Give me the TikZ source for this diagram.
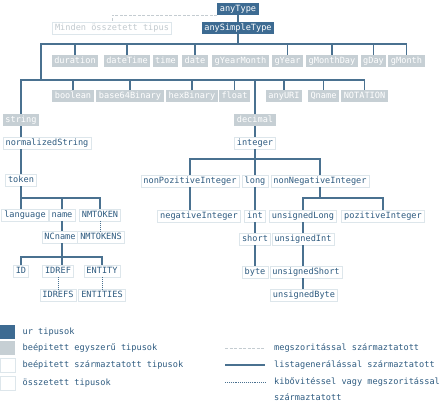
\documentclass[tikz,border=0pt]{standalone}
\usepackage{fontspec}
\setmonofont{DejaVu Sans Mono}
\definecolor{urblue}{HTML}{3D6B92}
\definecolor{boxgray}{HTML}{C6CFD4}
\definecolor{lineblue}{HTML}{4A7190}
\definecolor{textblue}{HTML}{2E5B80}
\definecolor{faint}{HTML}{DDE6EB}
\definecolor{complextext}{HTML}{C2CACF}
\definecolor{restrline}{HTML}{C4CCD1}
\begin{document}
\begin{tikzpicture}[x=1pt,y=-1pt,
  every node/.style={font=\ttfamily\fontsize{8.6}{9}\selectfont, inner xsep=2.5pt, inner ysep=1.8pt,
    text height=6.4pt, text depth=1.8pt},
  urbox/.style={fill=urblue, text=white},
  builtin/.style={fill=boxgray, text=white},
  derived/.style={fill=white, draw=faint, line width=0.6pt, text=textblue},
  complexbox/.style={fill=white, draw=faint, line width=0.8pt, text=complextext},
  edge/.style={draw=lineblue, line width=1.6pt},
  dotline/.style={draw=lineblue, line width=0.9pt, dash pattern=on 0.9pt off 1pt},
  restr/.style={draw=restrline, line width=0.9pt, dash pattern=on 3pt off 1.5pt},
  legsq/.style={minimum width=15pt, minimum height=14pt, inner sep=0pt, text height=, text depth=},
  legtext/.style={anchor=west, text=textblue}]
\useasboundingbox (0,0) rectangle (443,405);

% root types
\node[urbox] (anyType) at (238,9) {anyType};
\node[urbox] (anySimpleType) at (238,28) {anySimpleType};
\node[complexbox] (minden) at (112,28) {Minden összetett tipus};
\draw[edge] (anyType.south) -- (anySimpleType.north);
\draw[restr] (anyType.south west) -| (minden.north);

% primitive types, first row
\foreach \n/\x in {duration/75, dateTime/127, time/165.5, date/195, gYearMonth/240.5,
                   gYear/287.5, gMonthDay/332, gDay/373.5, gMonth/406.5}
  \node[builtin] (\n) at (\x,61) {\n};
% primitive types, second row
\foreach \n/\x in {boolean/73, base64Binary/130, hexBinary/192, float/234.5,
                   anyURI/284, Qname/323.5, NOTATION/364.5}
  \node[builtin] (\n) at (\x,96) {\n};

\coordinate (bus1) at (41,44);
\coordinate (bus2) at (20,80);
\draw[edge] (anySimpleType.south) -- (anySimpleType.south |- bus1);
\draw[edge] (bus1 |- bus2) -- (bus1) -- (gMonth.north |- bus1) -- (gMonth.north);
\foreach \n in {duration, dateTime, date, gYear, gMonthDay, gDay}
  \draw[edge] (\n.north |- bus1) -- (\n.north);

% string branch
\node[builtin] (string) at (21,120) {string};
\node[derived] (normalizedString) at (47,143) {normalizedString};
\node[derived] (token) at (21,180) {token};
\draw[edge] (string.north) -- (string.north |- bus2) -- (NOTATION.north |- bus2) -- (NOTATION.north);
\foreach \n in {boolean, base64Binary, hexBinary, float, anyURI, Qname}
  \draw[edge] (\n.north |- bus2) -- (\n.north);
\draw[edge] (string.south) -- (string.south |- normalizedString.north);
\draw[edge] (string.south |- normalizedString.south) -- (token.north);

\node[derived] (language) at (25,215) {language};
\node[derived] (name) at (62,215) {name};
\node[derived] (NMTOKEN) at (100,215) {NMTOKEN};
\node[derived] (NCname) at (60,237) {NCname};
\node[derived] (NMTOKENS) at (101,237) {NMTOKENS};
\node[derived] (ID) at (21,271) {ID};
\node[derived] (IDREF) at (58,271) {IDREF};
\node[derived] (ENTITY) at (102,271) {ENTITY};
\node[derived] (IDREFS) at (58,295) {IDREFS};
\node[derived] (ENTITIES) at (102,295) {ENTITIES};

\coordinate (bus3) at (0,198);
\coordinate (bus4) at (0,257);
\draw[edge] (token.south) -- (token.south |- language.north);
\draw[edge] (token.south |- bus3) -- (NMTOKEN.north |- bus3) -- (NMTOKEN.north);
\draw[edge] (name.north |- bus3) -- (name.north);
\draw[edge] (name.south) -- (name.south |- NCname.north);
\draw[edge] (name.south |- NCname.south) -- (name.south |- IDREF.north);
\draw[edge] (ID.north) -- (ID.north |- bus4) -- (ENTITY.north |- bus4) -- (ENTITY.north);
\draw[dotline] (NMTOKEN.south) -- (NMTOKEN.south |- NMTOKENS.north);
\draw[dotline] (IDREF.south) -- (IDREFS.north);
\draw[dotline] (ENTITY.south) -- (ENTITIES.north);

% decimal branch
\node[builtin] (decimal) at (255,120) {decimal};
\node[derived] (integer) at (255,143) {integer};
\draw[edge] (decimal.north) -- (decimal.north |- bus2);
\draw[edge] (decimal.south) -- (integer.north);

\node[derived] (nonPozitiveInteger) at (190,181) {nonPozitiveInteger};
\node[derived] (long) at (255,181) {long};
\node[derived] (nonNegativeInteger) at (320,181) {nonNegativeInteger};
\node[derived] (negativeInteger) at (199,216) {negativeInteger};
\node[derived] (int) at (255,216) {int};
\node[derived] (short) at (255,239) {short};
\node[derived] (byte) at (255,272) {byte};
\node[derived] (unsignedLong) at (303,216) {unsignedLong};
\node[derived] (pozitiveInteger) at (383,216) {pozitiveInteger};
\node[derived] (unsignedInt) at (303,239) {unsignedInt};
\node[derived] (unsignedShort) at (306,272) {unsignedShort};
\node[derived] (unsignedByte) at (304,295) {unsignedByte};

\coordinate (bus5) at (0,159);
\coordinate (bus6) at (0,198);
\draw[edge] (integer.south) -- (long.north);
\draw[edge] (nonPozitiveInteger.north) -- (nonPozitiveInteger.north |- bus5)
  -- (nonNegativeInteger.north |- bus5) -- (nonNegativeInteger.north);
\draw[edge] (nonPozitiveInteger.south) -- (nonPozitiveInteger.south |- negativeInteger.north);
\draw[edge] (long.south) -- (int.north);
\draw[edge] (int.south) -- (short.north);
\draw[edge] (short.south) -- (byte.north);
\draw[edge] (nonNegativeInteger.south) -- (nonNegativeInteger.south |- bus6);
\draw[edge] (unsignedLong.north) -- (unsignedLong.north |- bus6)
  -- (pozitiveInteger.north |- bus6) -- (pozitiveInteger.north);
\draw[edge] (unsignedLong.south) -- (unsignedInt.north);
\draw[edge] (unsignedLong.south |- unsignedInt.south) -- (unsignedLong.south |- unsignedShort.north);
\draw[edge] (unsignedLong.south |- unsignedShort.south) -- (unsignedLong.south |- unsignedByte.north);

% legend: box kinds
\node[legsq, fill=urblue] (sqUr) at (7.5,332) {};
\node[legsq, fill=boxgray] (sqBuiltin) at (7.5,348) {};
\node[legsq, fill=white, draw=faint, line width=0.6pt] (sqDerived) at (7.5,365) {};
\node[legsq, fill=white, draw=faint, line width=0.6pt] (sqComplex) at (7.5,383) {};
\node[legtext] (lUr) at (20,332) {ur tipusok};
\node[legtext] (lBuiltin) at (20,348) {beépitett egyszerű tipusok};
\node[legtext] (lDerived) at (20,365) {beépitett származtatott tipusok};
\node[legtext] (lComplex) at (20,383) {összetett tipusok};

% legend: connector kinds
\coordinate (r1a) at (225,348); \coordinate (r1b) at (265,348);
\coordinate (r2a) at (225,365); \coordinate (r2b) at (265,365);
\coordinate (r3a) at (225,382); \coordinate (r3b) at (265,382);
\draw[restr] (r1a) -- (r1b);
\draw[edge] (r2a) -- (r2b);
\draw[dotline] (r3a) -- (r3b);
\node[legtext] (lRestr) at (271.5,348) {megszoritással származtatott};
\node[legtext] (lList) at (271.5,365) {listagenerálással származtatott};
\node[legtext] (lExt) at (271.5,382) {kibővitéssel vagy megszoritással};
\node[legtext] (lExt2) at (271.5,398) {származtatott};
\end{tikzpicture}
\end{document}
